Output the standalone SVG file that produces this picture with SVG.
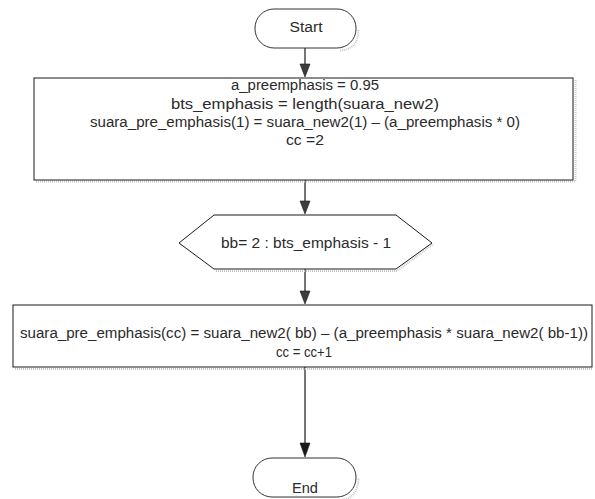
<svg xmlns="http://www.w3.org/2000/svg" width="595" height="499" viewBox="0 0 595 499">
  <style>
    .shape { fill: #ffffff; stroke: #1a1a1a; stroke-width: 1; }
    .terminal { fill: #ffffff; stroke: #333333; stroke-width: 1; }
    .shadow { fill: none; stroke: #c8c8c8; stroke-width: 2; stroke-dasharray: 1 1; }
    .label { font-family: "Liberation Sans", Arial, sans-serif; font-size: 14px; fill: #2a2a2a; text-anchor: middle; }
    .flow { stroke: #1a1a1a; stroke-width: 1.2; fill: none; }
    .head { fill: #3c3c3c; stroke: #1a1a1a; stroke-width: 0.6; }
  </style>

  <!-- connectors -->
  <g id="connectors">
    <line class="flow" x1="305" y1="48" x2="305" y2="66"/>
    <path class="head" d="M300,64 L310,64 L305,77 Z"/>
    <line class="flow" x1="305" y1="180" x2="305" y2="203"/>
    <path class="head" d="M300,201 L310,201 L305,214 Z"/>
    <line class="flow" x1="305" y1="269" x2="305" y2="293"/>
    <path class="head" d="M300,291 L310,291 L305,304 Z"/>
    <line class="flow" x1="305" y1="367" x2="305" y2="445"/>
    <path class="head" d="M300,443 L310,443 L305,457 Z" style="fill:#1a1a1a"/>
  </g>

  <!-- start terminal -->
  <g id="start">
    <path class="shadow" d="M340,50.5 Q358,50 358.5,30"/>
    <rect class="terminal" x="255" y="9" width="101" height="39" rx="19" ry="19"/>
    <text class="label" x="306" y="32" textLength="33" lengthAdjust="spacingAndGlyphs">Start</text>
  </g>

  <!-- initialisation block -->
  <g id="init">
    <polyline class="shadow" points="36,181.5 575.5,181.5 575.5,80"/>
    <rect class="shape" x="34" y="78" width="539" height="102"/>
    <text class="label" x="305" y="90" textLength="148" lengthAdjust="spacingAndGlyphs">a_preemphasis = 0.95</text>
    <text class="label" x="305" y="108.5" textLength="268" lengthAdjust="spacingAndGlyphs">bts_emphasis = length(suara_new2)</text>
    <text class="label" x="305" y="127" textLength="430" lengthAdjust="spacingAndGlyphs">suara_pre_emphasis(1) = suara_new2(1) – (a_preemphasis * 0)</text>
    <text class="label" x="305" y="145" textLength="38" lengthAdjust="spacingAndGlyphs">cc =2</text>
  </g>

  <!-- loop header -->
  <g id="loop">
    <polyline class="shadow" points="216,271 397,271 433.5,244"/>
    <polygon class="shape" points="179,243 214,215 396,215 432,243 396,269 214,269"/>
    <text class="label" x="306" y="248" textLength="170" lengthAdjust="spacingAndGlyphs">bb= 2 : bts_emphasis - 1</text>
  </g>

  <!-- loop body -->
  <g id="body">
    <polyline class="shadow" points="15,369 593,369"/>
    <rect class="shape" x="13" y="305" width="579" height="62"/>
    <text class="label" x="304" y="338" textLength="568" lengthAdjust="spacingAndGlyphs">suara_pre_emphasis(cc) = suara_new2( bb) – (a_preemphasis * suara_new2( bb-1))</text>
    <text class="label" x="304" y="357" textLength="56" lengthAdjust="spacingAndGlyphs">cc = cc+1</text>
  </g>

  <!-- end terminal -->
  <g id="end">
    <path class="shadow" d="M340,500 Q358,499 358.5,478"/>
    <rect class="terminal" x="253" y="458" width="103" height="39" rx="19" ry="19"/>
    <text class="label" x="305" y="493" textLength="26" lengthAdjust="spacingAndGlyphs">End</text>
  </g>
</svg>
